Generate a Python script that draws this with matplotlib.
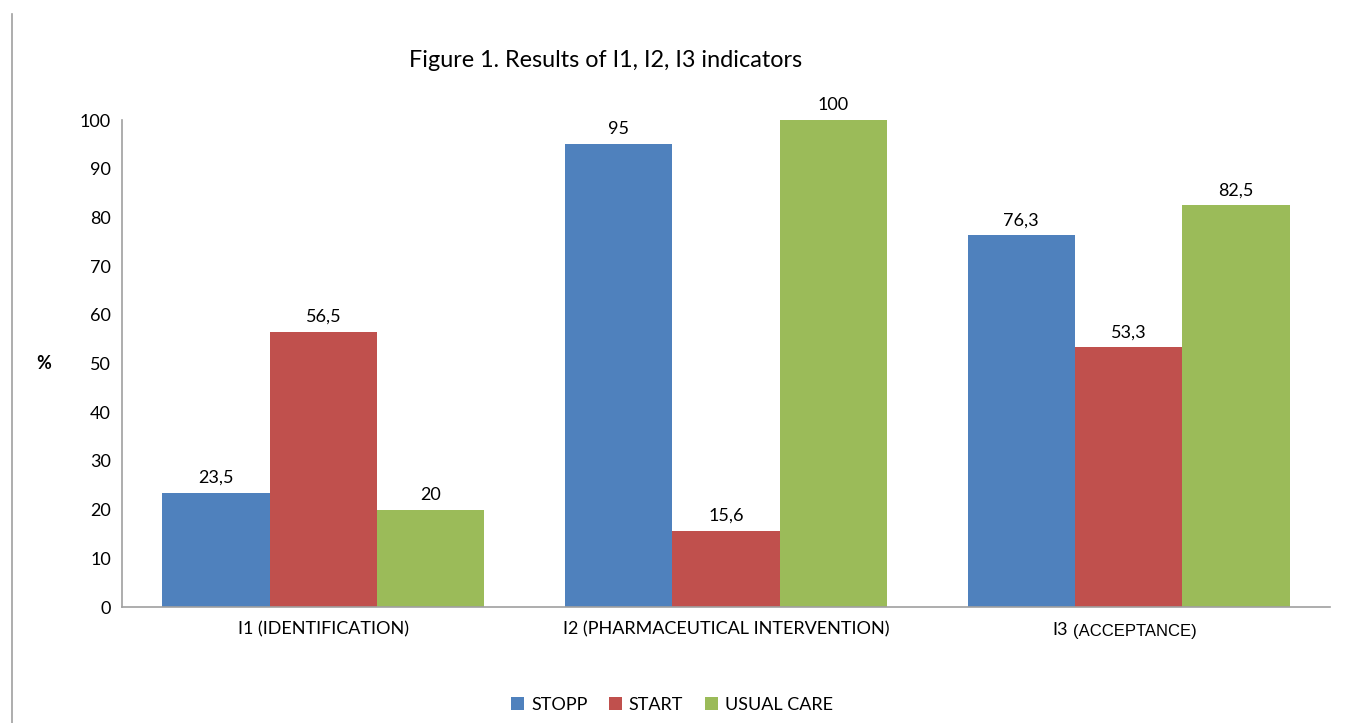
import numpy as np
import matplotlib.pyplot as plt
from matplotlib.lines import Line2D

categories = ['I1 (IDENTIFICATION)', 'I2 (PHARMACEUTICAL INTERVENTION)', 'I3 (ACCEPTANCE)']
series = ['STOPP', 'START', 'USUAL CARE']
stopp = [23.5, 95, 76.3]
start = [56.5, 15.6, 53.3]
usual = [20, 100, 82.5]
colors = ['#4F81BD', '#C0504D', '#9BBB59']

plt.rcParams['font.family'] = ['Lato', 'DejaVu Sans']

fig = plt.figure(figsize=(13.63, 7.23), dpi=100)
ax = fig.add_axes([0.0895, 0.1604, 0.8863, 0.6736])

x = np.arange(len(categories))
w = 0.8 / 3
for i, (vals, name) in enumerate(zip([stopp, start, usual], series)):
    bars = ax.bar(x + (i - 1) * w, vals, w, color=colors[i], label=name)
    for b, v in zip(bars, vals):
        lbl = ('%g' % v).replace('.', ',')
        ax.annotate(lbl, (b.get_x() + b.get_width() / 2, v), xytext=(0, 5),
                    textcoords='offset points', ha='center', va='bottom', fontsize=13)

ax.set_xlim(-0.5, 2.5)
ax.set_ylim(0, 100)
ax.set_yticks(range(0, 101, 10))
ax.set_xticks(x)
ax.set_xticklabels(['I1 (IDENTIFICATION)', 'I2 (PHARMACEUTICAL INTERVENTION)', ''])
ax.tick_params(length=0, labelsize=13, pad=8)
ax.tick_params(axis='x', pad=10)
# third label mixes two fonts like the original
ax.annotate('I3', (2, 0), xytext=(-44, -11), textcoords='offset points',
            ha='right', va='top', fontsize=13)
ax.annotate('(ACCEPTANCE)', (2, 0), xytext=(-40, -12.5), textcoords='offset points',
            ha='left', va='top', fontsize=12, family='Liberation Sans')

for s in ['top', 'right']:
    ax.spines[s].set_visible(False)
for s in ['left', 'bottom']:
    ax.spines[s].set_color('#A0A0A0')
    ax.spines[s].set_linewidth(1.2)

ax.set_ylabel('%', rotation=0, fontsize=13, fontweight='bold', labelpad=26, va='center')

fig.text(0.444, 0.917, 'Figure 1. Results of I1, I2, I3 indicators', ha='center', va='center', fontsize=16.8)

fig.legend(loc='center', bbox_to_anchor=(0.493, 0.025), ncol=3, frameon=False, fontsize=13,
           handlelength=0.7, handleheight=0.7, columnspacing=1.2, handletextpad=0.4)

fig.add_artist(Line2D([0.0088, 0.0088], [0, 0.981], color='#A0A0A0', lw=1.2))

fig.savefig('out.png', dpi=100)
